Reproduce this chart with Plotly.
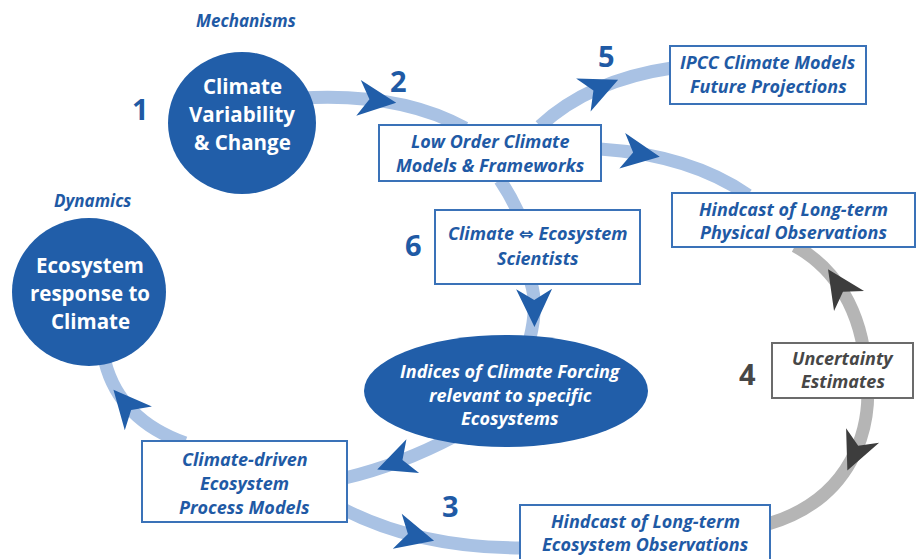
import math
import plotly.graph_objects as go

# ---------------- data (text content) ----------------
header_labels = ["Mechanisms", "Dynamics"]
hub_labels = [["Climate", "Variability", "& Change"],
              ["Ecosystem", "response to", "Climate"]]
forcing_labels = ["Indices of Climate Forcing", "relevant to specific", "Ecosystems"]
box_labels = [
    ["Low Order Climate", "Models & Frameworks"],
    ["IPCC Climate Models", "Future Projections"],
    ["Hindcast of Long-term", "Physical Observations"],
    ["Climate \u21d4 Ecosystem", "Scientists"],
    ["Uncertainty", "Estimates"],
    ["Climate-driven", "Ecosystem", "Process Models"],
    ["Hindcast of Long-term", "Ecosystem Observations"],
]
step_numbers = ["1", "2", "5", "6", "4", "3"]

# ---------------- layout geometry (pixel space) ----------------
W, H = 917, 559
BLUE = "#215ea9"
TXT = "#1f5aa5"
BAND = "#a9c2e4"
GREY_BAND = "#b5b5b5"
GREY_HEAD = "#3d3d3d"
FONT = "Open Sans"

header_pos = [(246, 20), (92, 200)]
hub_geom = [(242, 123, 74, 71), (89, 292, 77, 74)]
hub_text_pos = [(242, [86, 114, 142]), (90, [265, 293, 321])]
forcing_geom = (506, 391, 142, 56)
forcing_text_pos = (510, [371, 395, 418])
box_geom = [(379, 125, 601, 181), (670, 46, 866, 104), (672, 193, 915, 247),
            (435, 210, 640, 284), (772, 343, 913, 398), (142, 441, 347, 522),
            (520, 505, 770, 565)]
box_text_y = [[141, 165], [62, 86], [209, 232], [233, 258], [358, 381],
              [459, 483, 507], [521, 544]]
step_pos = [(140, 108), (398, 80), (606, 55), (413, 244), (747, 373), (450, 505)]

# band paths: list of control points (quadratic: 3 pts, cubic: 4 pts), arrow t
blue_bands = [
    ([(300, 98), (400, 92), (465, 128)], 0.40),
    ([(540, 126), (590, 80), (672, 68)], 0.50),
    ([(600, 149), (690, 155), (748, 195)], 0.22),
    ([(500, 180), (510, 195), (518, 212)], None),
    ([(531, 283), (538, 305), (530, 338)], 0.45),
    ([(455, 436), (400, 465), (345, 478)], 0.52),
    ([(185, 443), (120, 420), (105, 362)], 0.56),
    ([(345, 510), (420, 548), (522, 548)], 0.42),
]
grey_bands = [
    ([(866, 370), (862, 310), (835, 268), (795, 246)], 0.55),
    ([(866, 370), (875, 430), (850, 500), (768, 524)], 0.44),
]


def bez(pts, t):
    if len(pts) == 3:
        (x0, y0), (x1, y1), (x2, y2) = pts
        x = (1 - t) ** 2 * x0 + 2 * t * (1 - t) * x1 + t ** 2 * x2
        y = (1 - t) ** 2 * y0 + 2 * t * (1 - t) * y1 + t ** 2 * y2
        dx = 2 * (1 - t) * (x1 - x0) + 2 * t * (x2 - x1)
        dy = 2 * (1 - t) * (y1 - y0) + 2 * t * (y2 - y1)
    else:
        (x0, y0), (x1, y1), (x2, y2), (x3, y3) = pts
        a, b, c, d = (1 - t) ** 3, 3 * t * (1 - t) ** 2, 3 * t ** 2 * (1 - t), t ** 3
        x = a * x0 + b * x1 + c * x2 + d * x3
        y = a * y0 + b * y1 + c * y2 + d * y3
        dx = 3 * (1 - t) ** 2 * (x1 - x0) + 6 * t * (1 - t) * (x2 - x1) + 3 * t ** 2 * (x3 - x2)
        dy = 3 * (1 - t) ** 2 * (y1 - y0) + 6 * t * (1 - t) * (y2 - y1) + 3 * t ** 2 * (y3 - y2)
    return x, y, math.atan2(dy, dx)


def path_str(pts):
    s = "M %g,%g " % pts[0]
    s += ("Q " if len(pts) == 3 else "C ") + " ".join("%g,%g" % p for p in pts[1:])
    return s


def dart(cx, cy, ang, L=22, back=16, half=18, notch=5):
    ux, uy = math.cos(ang), math.sin(ang)
    px, py = -uy, ux
    tip = (cx + L * ux, cy + L * uy)
    c1 = (cx - back * ux + half * px, cy - back * uy + half * py)
    c2 = (cx - back * ux - half * px, cy - back * uy - half * py)
    nt = (cx - notch * ux, cy - notch * uy)
    return "M %g,%g L %g,%g L %g,%g L %g,%g Z" % (tip + c1 + nt + c2)


def ellipse_shape(cx, cy, rx, ry):
    return dict(type="circle", xref="x", yref="y", x0=cx - rx, x1=cx + rx,
                y0=cy - ry, y1=cy + ry, fillcolor=BLUE, line=dict(width=0))


shapes = []
for pts, _ in blue_bands:
    shapes.append(dict(type="path", path=path_str(pts), line=dict(color=BAND, width=13)))
for pts, _ in grey_bands:
    shapes.append(dict(type="path", path=path_str(pts), line=dict(color=GREY_BAND, width=13)))
for pts, t in blue_bands:
    if t is not None:
        x, y, a = bez(pts, t)
        shapes.append(dict(type="path", path=dart(x, y, a), fillcolor=BLUE, line=dict(width=0)))
for pts, t in grey_bands:
    x, y, a = bez(pts, t)
    shapes.append(dict(type="path", path=dart(x, y, a), fillcolor=GREY_HEAD, line=dict(width=0)))

for i, (x0, y0, x1, y1) in enumerate(box_geom):
    col = "#6b6b6b" if i == 4 else "#3a72b8"
    shapes.append(dict(type="rect", x0=x0, y0=y0, x1=x1, y1=y1, fillcolor="white",
                       line=dict(color=col, width=2)))
for cx, cy, rx, ry in hub_geom:
    shapes.append(ellipse_shape(cx, cy, rx, ry))
shapes.append(ellipse_shape(*forcing_geom))

ann = []


def add_text(x, y, text, size, color, bold=True, italic=True):
    t = text.replace("\u21d4", "<span style=\"font-family:'DejaVu Sans'\">\u21d4</span>")
    if bold:
        t = "<b>%s</b>" % t
    if italic:
        t = "<i>%s</i>" % t
    ann.append(dict(x=x, y=y, text=t, showarrow=False, xanchor="center", yanchor="middle",
                    font=dict(family=FONT, size=size, color=color)))


for (x, y), lab in zip(header_pos, header_labels):
    add_text(x, y, lab, 17, TXT)
for (x, ys), lines in zip(hub_text_pos, hub_labels):
    for y, line in zip(ys, lines):
        add_text(x, y, line, 20.5, "white", italic=False)
fx, fys = forcing_text_pos
for y, line in zip(fys, forcing_labels):
    add_text(fx, y, line, 18, "white")
for i, ((x0, y0, x1, y1), ys, lines) in enumerate(zip(box_geom, box_text_y, box_labels)):
    col = "#474747" if i == 4 else TXT
    cx = (x0 + x1) / 2
    for y, line in zip(ys, lines):
        add_text(cx, y, line, 18, col)
for (x, y), num in zip(step_pos, step_numbers):
    col = "#474747" if num == "4" else TXT
    add_text(x, y, num, 29, col, italic=False)

fig = go.Figure(go.Scatter(x=[], y=[]))
fig.update_layout(
    width=W, height=H, margin=dict(l=0, r=0, t=0, b=0),
    paper_bgcolor="white", plot_bgcolor="white", showlegend=False,
    xaxis=dict(range=[0, W], visible=False, fixedrange=True),
    yaxis=dict(range=[H, 0], visible=False, fixedrange=True),
    shapes=shapes, annotations=ann,
)
fig.write_html("out.html", config={"displayModeBar": False},
               post_script="document.body.style.margin='0';document.body.style.overflow='hidden';")
